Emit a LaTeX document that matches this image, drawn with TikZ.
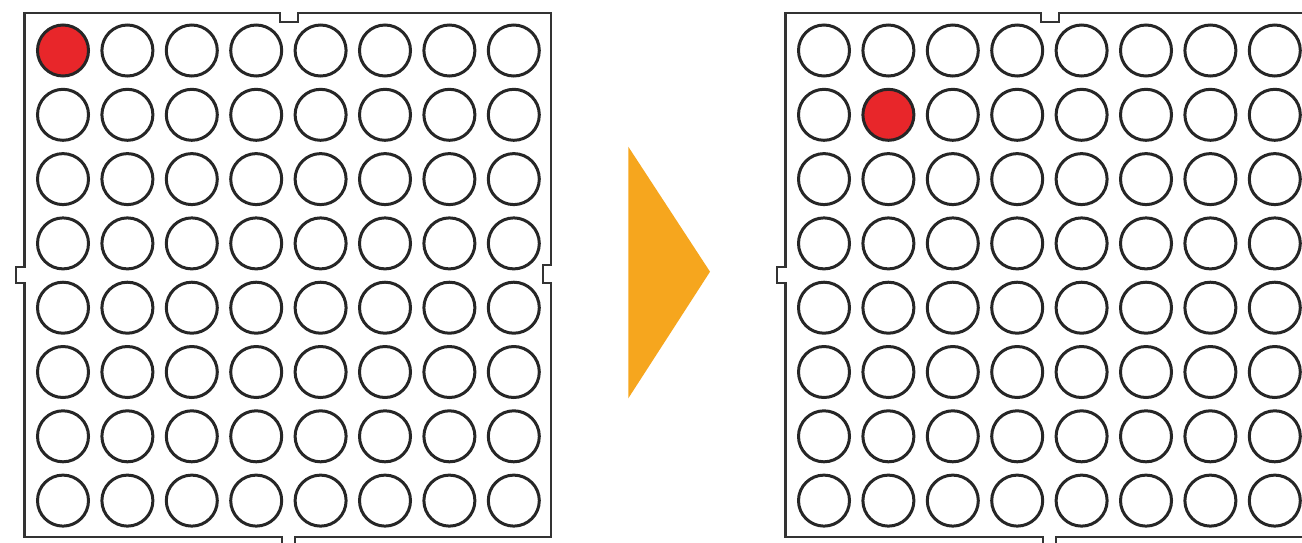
\documentclass[tikz,border=0pt]{standalone}
\begin{document}
\begin{tikzpicture}[x=1pt,y=-1pt,
  framec/.style={draw=black!80, line width=2.6pt, line join=miter, fill=white},
  hole/.style={circle, draw=black!85, line width=3pt, minimum size=51pt, inner sep=0pt, fill=white},
  hot/.style={hole, fill=redc},
]
\definecolor{redc}{RGB}{232,38,42}
\definecolor{arrowc}{RGB}{246,166,30}
\useasboundingbox (0,0) rectangle (1302,542);
\clip (0,0) rectangle (1302,542);
\fill[white] (0,0) rectangle (1302,542);
% frames
\foreach \dx/\nm in {0/A,761/B}{
  \begin{scope}[xshift=\dx pt]
  \draw[framec] (24.5,13) -- (280,13) -- (280,22) -- (298,22) -- (298,13) -- (551,13)
    -- (551,265) -- (543,265) -- (543,283) -- (551,283) -- (551,537)
    -- (295,537) -- (295,548) -- (282,548) -- (282,537) -- (24.5,537)
    -- (24.5,283) -- (16,283) -- (16,267) -- (24.5,267) -- cycle;
  \end{scope}
}
% left grid
\foreach \i in {0,...,7}{\foreach \j in {0,...,7}{
  \def\st{hole}
  \ifnum\i=0 \ifnum\j=0 \def\st{hot}\fi\fi
  \node[\st] (A-\i-\j) at ({63+64.4*\i},{50.5+64.3*\j}) {};
}}
% right grid
\foreach \i in {0,...,7}{\foreach \j in {0,...,7}{
  \def\st{hole}
  \ifnum\i=1 \ifnum\j=1 \def\st{hot}\fi\fi
  \node[\st] (B-\i-\j) at ({824+64.4*\i},{50.5+64.3*\j}) {};
}}
% arrow
\fill[arrowc] (628.3,146.7) -- (710,271.7) -- (628.3,398.3) -- cycle;
\end{tikzpicture}
\end{document}
